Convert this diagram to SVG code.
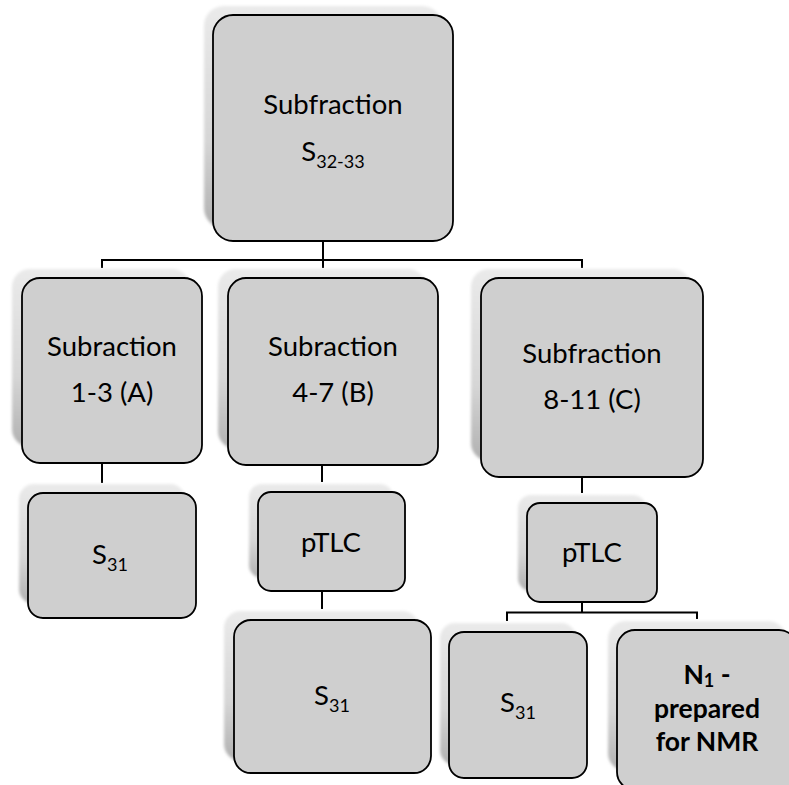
<svg xmlns="http://www.w3.org/2000/svg" width="789" height="785" viewBox="0 0 789 785">
<defs>
<linearGradient id="shg" x1="0" y1="0" x2="0" y2="1">
<stop offset="0" stop-color="#eaeaea"/>
<stop offset="0.6" stop-color="#d6d6d6"/>
<stop offset="1" stop-color="#b0b0b0"/>
</linearGradient>
<filter id="blur" x="-10%" y="-10%" width="120%" height="120%">
<feGaussianBlur stdDeviation="1.5"/>
</filter>
</defs>
<style>
.sh{fill:url(#shg);filter:url(#blur)}
.bx{fill:#cfcfcf;stroke:#000;stroke-width:1.8}
.t{font-family:Lato,"Open Sans","Liberation Sans",sans-serif;font-size:27.5px;fill:#000;text-anchor:middle}
.b{font-weight:bold;font-size:26.5px}
.sub{font-size:18px}
.ln{fill:none;stroke:#000;stroke-width:2}
</style>
<rect width="789" height="785" fill="#fff"/>
<g id="connectors">
<path class="ln" d="M323 241V268M102 268V260H582V268"/>
<path class="ln" d="M102 463V483"/>
<path class="ln" d="M322 465V482"/>
<path class="ln" d="M322 592V609"/>
<path class="ln" d="M582 477V493"/>
<path class="ln" d="M582 602V612.5M507 621V612.5H697V619"/>
</g>
<g id="top">
<rect class="sh" x="204" y="6" width="238" height="222" rx="20"/>
<rect class="bx" x="213" y="15" width="240" height="226" rx="20"/>
<text class="t" x="333" y="114">Subfraction</text>
<text class="t" x="333" y="161">S<tspan class="sub" dy="7">32-33</tspan></text>
</g>
<g id="nodeA">
<rect class="sh" x="12" y="269" width="178" height="178" rx="18"/>
<rect class="bx" x="22" y="278" width="180" height="185" rx="18"/>
<text class="t" x="112" y="356">Subraction</text>
<text class="t" x="112" y="402">1-3 (A)</text>
</g>
<g id="nodeB">
<rect class="sh" x="218" y="269" width="208" height="180" rx="18"/>
<rect class="bx" x="228" y="278" width="210" height="187" rx="18"/>
<text class="t" x="333" y="356">Subraction</text>
<text class="t" x="333" y="402">4-7 (B)</text>
</g>
<g id="nodeC">
<rect class="sh" x="471" y="269" width="220" height="192" rx="18"/>
<rect class="bx" x="481" y="278" width="222" height="199" rx="18"/>
<text class="t" x="592" y="363">Subfraction</text>
<text class="t" x="592" y="409">8-11 (C)</text>
</g>
<g id="s31A">
<rect class="sh" x="19" y="484" width="166" height="120" rx="15"/>
<rect class="bx" x="28" y="493" width="168" height="125" rx="15"/>
<text class="t" x="110" y="564">S<tspan class="sub" dy="7">31</tspan></text>
</g>
<g id="ptlcB">
<rect class="sh" x="249" y="484" width="144" height="94" rx="13"/>
<rect class="bx" x="258" y="492" width="147" height="99" rx="13"/>
<text class="t" x="331" y="552">pTLC</text>
</g>
<g id="s31B">
<rect class="sh" x="224" y="611" width="195" height="150" rx="17"/>
<rect class="bx" x="234" y="620" width="197" height="153" rx="17"/>
<text class="t" x="332" y="705">S<tspan class="sub" dy="7">31</tspan></text>
</g>
<g id="ptlcC">
<rect class="sh" x="518" y="495" width="128" height="96" rx="13"/>
<rect class="bx" x="527" y="503" width="130" height="99" rx="13"/>
<text class="t" x="592" y="562">pTLC</text>
</g>
<g id="s31C">
<rect class="sh" x="440" y="623" width="136" height="142" rx="15"/>
<rect class="bx" x="449" y="632" width="138" height="146" rx="15"/>
<text class="t" x="518" y="712">S<tspan class="sub" dy="7">31</tspan></text>
</g>
<g id="n1">
<rect class="sh" x="608" y="621" width="178" height="150" rx="18"/>
<rect class="bx" x="617" y="630" width="180" height="160" rx="18"/>
<text class="t b" x="707" y="684">N<tspan class="sub" dy="3">1</tspan><tspan dy="-3"> -</tspan></text>
<text class="t b" x="707" y="718">prepared</text>
<text class="t b" x="707" y="751">for NMR</text>
</g>
</svg>
